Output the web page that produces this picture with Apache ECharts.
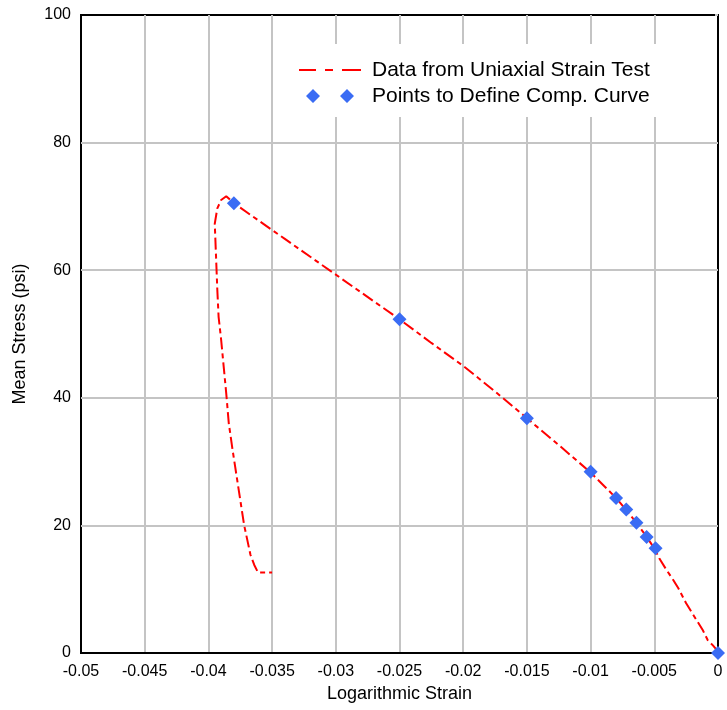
<!DOCTYPE html>
<html>
<head>
<meta charset="utf-8">
<script src="https://cdn.jsdelivr.net/npm/echarts@6/dist/echarts.min.js"></script>
<style>
  html, body { margin: 0; padding: 0; background: #fff; }
  #chart { width: 727px; height: 710px; }
</style>
</head>
<body>
<div id="chart"></div>
<script>
// ---- data ----
const curveStrain = [0, -0.0001, -0.0004, -0.0008, -0.0012, -0.0017, -0.0025, -0.0031, -0.0035, -0.0041,
  -0.0046, -0.0050, -0.0056, -0.0064, -0.0072, -0.0080, -0.0090, -0.0100, -0.0125, -0.0150,
  -0.0175, -0.0200, -0.0225, -0.0250, -0.0280, -0.0310, -0.0340, -0.0360, -0.0375, -0.0380,
  -0.0386, -0.0390, -0.0393, -0.0395, -0.0394, -0.0393, -0.0392, -0.0390, -0.0388, -0.0386,
  -0.0384, -0.0381, -0.0379, -0.0377, -0.0372, -0.0367, -0.0364, -0.0361, -0.0355, -0.0350];
const curveStress = [0, 0.5, 1.2, 2.0, 3.6, 5.2, 7.8, 10.1, 11.4, 13.2,
  14.8, 16.4, 18.2, 20.4, 22.4, 24.3, 26.3, 28.3, 32.6, 36.8,
  41.0, 45.0, 48.6, 52.3, 56.5, 60.7, 64.9, 67.7, 69.8, 70.5,
  71.6, 71.0, 69.7, 67.3, 62.1, 56.9, 52.7, 49.1, 44.9, 40.7,
  36.0, 31.8, 29.2, 26.6, 20.1, 15.4, 13.8, 12.6, 12.6, 12.6];

const pointStrain = [-0.038, -0.025, -0.015, -0.010, -0.0080, -0.0072, -0.0064, -0.0056, -0.0049, 0];
const pointStress = [70.5, 52.3, 36.8, 28.4, 24.3, 22.5, 20.4, 18.2, 16.4, 0];

const seriesNames = ['Data from Uniaxial Strain Test', 'Points to Define Comp. Curve'];
const xTitle = 'Logarithmic Strain';
const yTitle = 'Mean Stress (psi)';

// ---- chart ----
const FONT = '"Liberation Sans", Arial, Helvetica, sans-serif';
const chart = echarts.init(document.getElementById('chart'), null, { renderer: 'canvas' });

const curveData = curveStrain.map((x, i) => [x, curveStress[i]]);
const pointData = pointStrain.map((x, i) => [x, pointStress[i]]);

const lineIcon = 'path://M0 0 L17 0 L17 2 L0 2 Z M26 0 L34 0 L34 2 L26 2 Z M43 0 L62 0 L62 2 L43 2 Z';
const diamondIcon = 'path://M0 7 L7 0 L14 7 L7 14 Z M34 7 L41 0 L48 7 L41 14 Z';

chart.setOption({
  animation: false,
  backgroundColor: '#fff',
  textStyle: { fontFamily: FONT },
  grid: {
    left: 81, right: 9, top: 15, bottom: 57,
    show: true, borderColor: '#000', borderWidth: 2, backgroundColor: 'transparent'
  },
  legend: {
    left: 285, top: 44,
    orient: 'vertical',
    backgroundColor: '#fff',
    padding: [14, 30, 9, 14],
    itemWidth: 62, itemHeight: 14, itemGap: 2,
    textStyle: { fontFamily: FONT, fontSize: 21, color: '#000', lineHeight: 24, padding: [0, 0, 0, 6] },
    data: [
      { name: seriesNames[0], icon: lineIcon, itemStyle: { color: '#ff0000', borderWidth: 0 } },
      { name: seriesNames[1], icon: diamondIcon, itemStyle: { color: '#3a6cf4', borderWidth: 0 } }
    ]
  },
  xAxis: {
    type: 'value', min: -0.05, max: 0, interval: 0.005,
    name: xTitle, nameLocation: 'middle', nameGap: 32,
    nameTextStyle: { fontFamily: FONT, fontSize: 18, color: '#000' },
    axisLine: { lineStyle: { color: '#000', width: 2 } },
    axisTick: { show: false },
    axisLabel: {
      fontFamily: FONT, fontSize: 16, color: '#000', margin: 11,
      formatter: v => (Math.abs(v) < 1e-9 ? '0' : String(+v.toFixed(3)))
    },
    splitLine: { show: true, showMinLine: false, showMaxLine: false, lineStyle: { color: '#c4c4c4', width: 2 } }
  },
  yAxis: {
    type: 'value', min: 0, max: 100, interval: 20,
    name: yTitle, nameLocation: 'middle', nameGap: 52, nameRotate: 90,
    nameTextStyle: { fontFamily: FONT, fontSize: 18, color: '#000' },
    axisLine: { show: true, lineStyle: { color: '#000', width: 2 } },
    axisTick: { show: true, length: 3, lineStyle: { color: '#c4c4c4', width: 2 } },
    axisLabel: { fontFamily: FONT, fontSize: 16, color: '#000', margin: 10 },
    splitLine: { show: true, showMinLine: false, showMaxLine: false, lineStyle: { color: '#c4c4c4', width: 2 } }
  },
  series: [
    {
      name: seriesNames[0], type: 'line', data: curveData,
      showSymbol: false, symbol: 'none', smooth: false,
      lineStyle: { color: '#ff0000', width: 2, type: [12, 4, 5, 4] },
      itemStyle: { color: '#ff0000' },
      z: 3
    },
    {
      name: seriesNames[1], type: 'scatter', data: pointData,
      symbol: 'diamond', symbolSize: 14,
      itemStyle: { color: '#3a6cf4', opacity: 1 },
      z: 4
    }
  ]
});
</script>
</body>
</html>
